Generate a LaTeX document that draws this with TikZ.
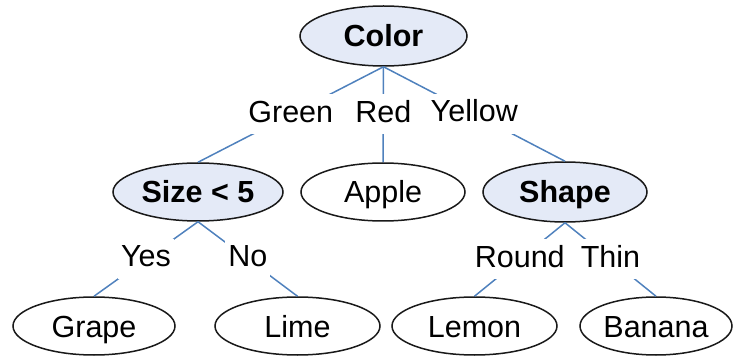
\documentclass[tikz,border=0pt]{standalone}
\usepackage{fontspec}
\setmainfont{Liberation Sans}
\usetikzlibrary{shapes.geometric}
\definecolor{nodefill}{RGB}{228,234,247}
\definecolor{edgeblue}{RGB}{79,129,189}
\definecolor{bordergray}{RGB}{25,25,25}
\begin{document}
\begin{tikzpicture}[x=1pt,y=-1pt,
  every node/.style={font=\fontsize{30.5}{36}\selectfont},
  leaf/.style={ellipse,draw=bordergray,line width=1.5pt,fill=white,inner sep=0pt,
    text height=22pt,text depth=0pt,minimum height=58pt},
  test/.style={leaf,fill=nodefill,font=\fontsize{30.5}{36}\selectfont\bfseries},
  branch/.style={draw=edgeblue,line width=1.5pt},
  lbl/.style={fill=white,inner xsep=3pt,inner ysep=6pt,text height=22pt,text depth=6pt}]
\useasboundingbox (0,0) rectangle (734,358);
% internal nodes
\node[test,minimum width=167pt,minimum height=60pt] (color) at (383.5,36) {Color};
\node[test,minimum width=170pt] (size) at (198,192) {Size < 5};
\node[leaf,minimum width=164pt] (apple) at (383,192) {Apple};
\node[test,minimum width=164pt,minimum height=60pt] (shape) at (565,192) {Shape};
% leaves
\node[leaf,minimum width=162pt] (grape) at (94,326) {Grape};
\node[leaf,minimum width=165pt] (lime) at (297.5,326) {Lime};
\node[leaf,minimum width=165pt] (lemon) at (474.5,326) {Lemon};
\node[leaf,minimum width=152pt] (banana) at (656,326) {Banana};
% branches
\draw[branch] (color.south) -- node[lbl] (lgreen) {Green} (size.north);
\draw[branch] (color.south) -- node[lbl] (lred) {Red} (apple.north);
\draw[branch] (color.south) -- node[lbl] (lyellow) {Yellow} (shape.north);
\draw[branch] (size.south) -- node[lbl] (lyes) {Yes} (grape.north);
\draw[branch] (size.south) -- node[lbl] (lno) {No} (lime.north);
\draw[branch] (shape.south) -- node[lbl] (lround) {Round} (lemon.north);
\draw[branch] (shape.south) -- node[lbl] (lthin) {Thin} (banana.north);
\end{tikzpicture}
\end{document}
